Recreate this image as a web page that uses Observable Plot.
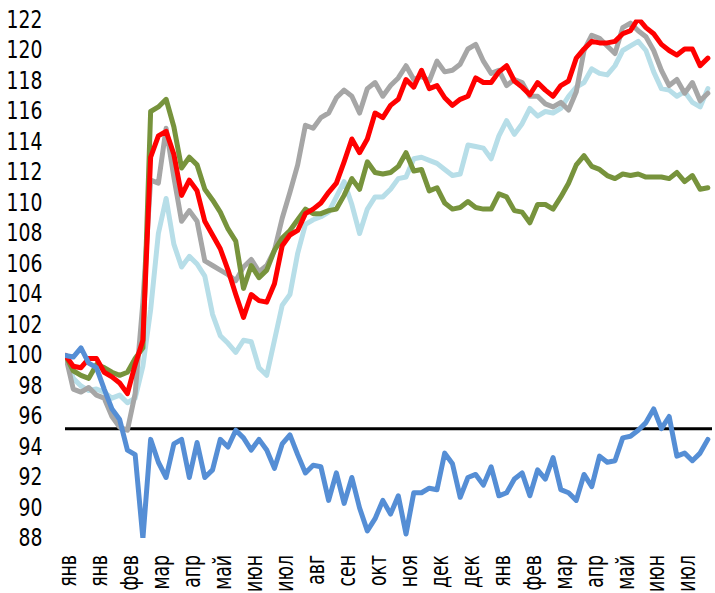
<!DOCTYPE html>
<html>
<head>
<meta charset="utf-8">
<script src="https://cdn.jsdelivr.net/npm/d3@7"></script>
<script src="https://cdn.jsdelivr.net/npm/@observablehq/plot@0.6"></script>
<style>
  html, body { margin: 0; padding: 0; background: #fff; }
  #chart svg { display: block; }
</style>
</head>
<body>
<div id="chart"></div>
<script>
// Month tick labels (one per tick position 0..20)
const monthLabels = ["янв","янв","фев","мар","апр","май","июн","июл","авг","сен","окт","ноя","дек","дек","янв","фев","мар","апр","май","июн","июл"];
const yTicks = [88,90,92,94,96,98,100,102,104,106,108,110,112,114,116,118,120,122];
const thresholdLevel = [95.2];
// sampling of the series along the month axis
const startPos = -0.1;
const stepPos = 0.25;

const seriesGrey = [100,97.8,97.6,97.9,97.4,97.2,96,95.3,95.1,97.5,103.5,111.5,111.3,114.9,111.7,108.8,109.5,108.8,106.2,105.9,105.6,105.3,104.9,105.8,106.3,105.5,105.9,106.9,109,110.7,112.5,115.1,114.9,115.6,115.9,116.9,117.4,117,115.9,117.5,117.9,117,117.7,118.2,119,118.1,118.3,118,119.3,118.6,118.7,119.1,120.1,120.4,119.3,118.5,118.7,117.7,118.1,117.9,117,117,116.5,116.3,116.6,116.1,117.3,120,121,120.8,120.3,119.8,121.5,121.8,121.3,120.9,120,118.7,117.7,118.1,117.2,117.9,116.7,117.2];
const seriesLightBlue = [100,98.5,98,97.7,97.8,97.6,97.2,97.4,96.9,97.2,99.3,103,108,110.3,107.3,105.8,106.5,106,105.2,102.7,101.3,100.8,100.2,101,100.9,99.2,98.7,101,103.3,104,106.7,108.6,108.9,109.1,109.4,110.4,111.4,109.9,108,109.6,110.4,110.4,110.9,111.6,111.7,112.9,113,112.8,112.6,112.2,111.8,111.9,113.8,113.7,113.6,112.9,114.4,115.4,114.5,115.2,116.2,115.7,116,115.9,116.2,117,117.6,117.9,118.8,118.5,118.4,119,120,120.3,120.6,120,118.6,117.5,117.4,117,117.3,116.6,116.3,117.5];
const seriesGreen = [100,99,98.7,98.5,99.4,99.2,98.9,98.7,98.9,99.8,100.5,116,116.3,116.8,115,112.3,113,112.5,110.9,110.2,109.4,108.3,107.5,104.4,105.9,105.1,105.6,106.9,107.7,108.2,108.9,109.6,109.3,109.3,109.5,109.6,110.5,111.6,110.9,112.7,112,111.9,112,112.4,113.3,112.1,112.2,110.8,111,110,109.6,109.7,110.1,109.7,109.6,109.6,110.6,110.4,109.5,109.4,108.7,109.9,109.9,109.6,110.4,111.3,112.5,113.1,112.4,112.2,111.8,111.6,111.9,111.8,111.9,111.7,111.7,111.7,111.6,112,111.4,111.8,110.9,111];
const seriesRed = [100,99.3,99.2,99.8,99.8,98.9,98.6,98.2,97.5,99.4,101,113,114.4,114.7,113.2,110.5,111.5,110.8,108.8,107.9,107,105.6,104,102.5,104,103.6,103.5,104.7,107.2,107.9,108.2,109.3,109.6,110,110.7,111.3,112.7,114.2,113.3,114.2,115.9,115.6,116.4,116.8,118.1,117.6,118.7,117.5,117.7,116.9,116.4,116.8,117,118.2,117.9,117.9,118.6,119,118,117.6,117.1,117.9,117.4,117,117.7,118,119.5,120.1,120.6,120.5,120.5,120.6,121.1,121.3,122.1,121.5,121.1,120.4,120,119.7,120.1,120.1,119,119.5];
const seriesBlue = [100,99.9,100.5,99.5,99.2,97.8,96.5,95.8,93.8,93.5,88,94.5,93,92,94.2,94.5,92,94.3,92,92.5,94.5,94,95.1,94.6,93.8,94.5,93.8,92.6,94.2,94.8,93.5,92.3,92.8,92.7,90.5,92.3,90.3,92,90,88.5,89.3,90.5,89.6,90.8,88.3,91,91,91.3,91.2,93.6,92.9,90.7,92,92.2,91.5,92.7,90.8,91,91.9,92.3,90.8,92.5,91.9,93.3,91.2,91,90.5,92.2,91.4,93.4,93,93.1,94.6,94.7,95.1,95.6,96.5,95.2,96,93.4,93.6,93.1,93.6,94.5];

const toRows = arr => arr.map((v, i) => ({x: startPos + i * stepPos, y: v}));

const lineOpts = (color) => ({x: "x", y: "y", stroke: color, strokeWidth: 5, clip: true});

const chart = Plot.plot({
  width: 715,
  height: 593,
  marginLeft: 65,
  marginRight: 3,
  marginTop: 19.5,
  marginBottom: 55,
  style: {
    fontFamily: "'Liberation Sans Narrow', 'Arial Narrow', 'DejaVu Sans Condensed', 'Liberation Sans', sans-serif",
    fontSize: "24px",
    color: "#000",
    background: "#fff"
  },
  x: {domain: [-0.1, 20.8], axis: null},
  y: {domain: [88, 122], axis: null},
  marks: [
    Plot.ruleY(thresholdLevel, {stroke: "#000", strokeWidth: 3}),
    Plot.line(toRows(seriesLightBlue), lineOpts("#B7DEE8")),
    Plot.line(toRows(seriesGrey), lineOpts("#A6A6A6")),
    Plot.line(toRows(seriesGreen), lineOpts("#77933C")),
    Plot.line(toRows(seriesRed), lineOpts("#FF0000")),
    Plot.line(toRows(seriesBlue), lineOpts("#558ED5")),
    Plot.axisY({ticks: yTicks, tickSize: 0, tickPadding: 23, tickFormat: d => String(d), label: null, fontSize: 24}),
    Plot.axisX({ticks: d3.range(0, monthLabels.length), tickSize: 0, tickPadding: 17, tickRotate: -90, tickFormat: i => monthLabels[i], label: null, fontSize: 24})
  ]
});
document.getElementById("chart").appendChild(chart);

// condense tick labels horizontally / along text direction (narrow face look)
const yg = chart.querySelector('g[aria-label="y-axis tick label"]');
if (yg) {
  const t = yg.getAttribute("transform") || "";
  yg.setAttribute("transform", `translate(42,0) scale(0.87,1) translate(-42,0) ${t}`);
}
const xg = chart.querySelector('g[aria-label="x-axis tick label"]');
if (xg) {
  const t = xg.getAttribute("transform") || "";
  xg.setAttribute("transform", `translate(0,553) scale(1,0.8) translate(0,-553) ${t}`);
}
</script>
</body>
</html>
